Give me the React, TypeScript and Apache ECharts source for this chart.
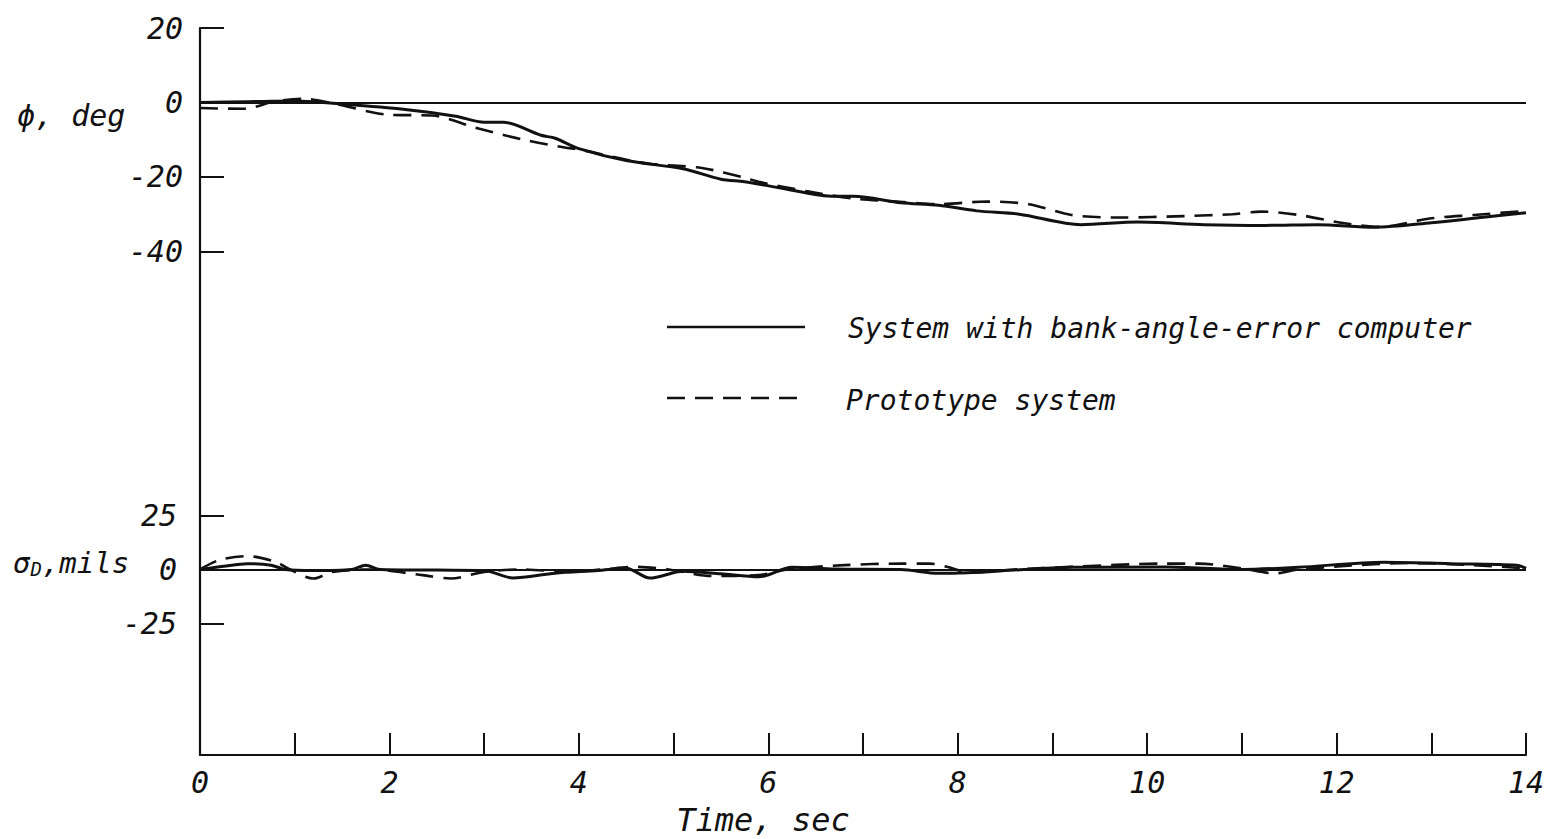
import React, { useEffect, useRef } from "react";
import * as echarts from "echarts";

// Time axis
const timeTicks = [0, 1, 2, 3, 4, 5, 6, 7, 8, 9, 10, 11, 12, 13, 14];
// Tick labels
const phiTicks = [20, 0, -20, -40];
const sigmaTicks = [25, 0, -25];

// Bank angle phi, deg : [time sec, value]
const phiSolid: number[][] = [
  [0, 0], [0.5, 0.2], [1.0, 0.4], [1.4, -0.2], [2.1, -1.7], [2.7, -3.7], [3.0, -5.3], [3.2, -5.3],
  [3.6, -8.8], [3.75, -9.6], [4.0, -12.4], [4.5, -15.6], [5.1, -17.8], [5.5, -20.6], [5.75, -21.3],
  [6.1, -22.8], [6.7, -25.2], [6.9, -25.2], [7.4, -26.9], [7.8, -27.6], [8.2, -29.1], [8.65, -30],
  [9.3, -32.8], [9.9, -32.1], [10.6, -32.8], [11.25, -33], [11.8, -32.8], [12.4, -33.5], [13.0, -32.3],
  [13.55, -30.8], [14.0, -29.6],
];
const phiDashed: number[][] = [
  [0, -1.5], [0.45, -1.7], [0.8, 0.3], [1.1, 1.0], [1.4, -0.2], [2.0, -3.3], [2.45, -3.5], [2.9, -6.7],
  [3.4, -9.9], [3.85, -12.1], [4.0, -12.6], [4.7, -16.3], [5.3, -17.6], [5.75, -20.2], [5.9, -21.3],
  [6.4, -23.8], [6.9, -25.8], [7.35, -26.6], [7.8, -27.3], [8.3, -26.6], [8.75, -27.3], [9.2, -30.2],
  [9.7, -30.9], [10.4, -30.5], [10.9, -30], [11.2, -29.3], [11.6, -30.2], [12.05, -32.3], [12.45, -33.4],
  [13.0, -31.1], [13.45, -30.2], [14.0, -29.1],
];

// sigma_D, mils : [time sec, value]
const sigmaSolid: number[][] = [
  [0, 0], [0.25, 1.5], [0.5, 2.7], [0.75, 2.0], [0.9, 0], [1.2, -0.5], [1.6, 0], [1.75, 2.0], [1.9, 0],
  [2.5, -0.3], [3.0, -0.5], [3.3, -3.9], [3.75, -1.7], [4.2, -0.5], [4.5, 0.6], [4.75, -4.0], [5.1, -0.8],
  [5.5, -2.0], [5.9, -3.4], [6.25, 1.0], [6.7, 0.2], [7.4, 0], [7.8, -1.8], [8.1, -1.5], [8.7, 0],
  [9.2, 1.0], [10.2, 1.2], [11.0, 0], [11.6, 1.0], [12.5, 3.4], [13.2, 2.7], [13.9, 2.0], [14.0, 0.5],
];
const sigmaDashed: number[][] = [
  [0, 0], [0.2, 4.3], [0.5, 6.2], [0.8, 3.5], [0.95, 0], [1.2, -4.2], [1.4, -1.1], [1.8, 0], [2.35, -2.6],
  [2.65, -4.2], [3.0, -1.1], [3.4, 0], [3.9, -1.1], [4.25, 0], [4.6, 1.2], [4.95, 0], [5.4, -3.0],
  [5.9, -2.6], [6.2, 0], [6.8, 2.0], [7.4, 2.7], [7.7, 2.7], [7.95, 0.5], [8.1, -1.5], [8.6, 0],
  [9.2, 1.2], [10.15, 2.7], [10.55, 2.7], [11.0, 0.5], [11.35, -1.8], [11.6, 0], [12.05, 1.5],
  [12.75, 3.0], [13.45, 2.0], [14.0, 0.5],
];

const legendSolid = "System with bank-angle-error computer";
const legendDashed = "Prototype system";

const INK = "#111";
const FONT = "'DejaVu Sans Mono', 'DejaVu Sans', sans-serif";

export default function App() {
  const ref = useRef<HTMLDivElement>(null);
  useEffect(() => {
    document.body.style.margin = "0";
    if (!ref.current) return;
    const chart = echarts.init(ref.current, null, { renderer: "svg" });
    const zeroLine = {
      silent: true,
      symbol: ["none", "none"],
      label: { show: false },
      lineStyle: { color: INK, width: 2.2, type: "solid" },
      data: [{ yAxis: 0 }],
    };
    chart.setOption({
      animation: false,
      backgroundColor: "#fff",
      grid: { left: 200, top: 28, width: 1326, height: 727, containLabel: false },
      xAxis: {
        type: "value",
        min: timeTicks[0],
        max: timeTicks[timeTicks.length - 1],
        interval: 1,
        splitLine: { show: false },
        axisLine: { onZero: false, lineStyle: { color: INK, width: 2.2 } },
        axisTick: { inside: true, length: 22, lineStyle: { color: INK, width: 2 } },
        axisLabel: {
          margin: 12,
          color: INK,
          fontFamily: FONT,
          fontStyle: "italic",
          fontSize: 30,
          formatter: (v: number) => (v % 2 === 0 ? String(v) : ""),
        },
      },
      yAxis: [
        {
          type: "value",
          min: -175.2,
          max: 20,
          position: "left",
          splitLine: { show: false },
          axisLine: { show: true, onZero: false, lineStyle: { color: INK, width: 2.2 } },
          axisTick: { inside: true, length: 24, customValues: phiTicks, lineStyle: { color: INK, width: 2 } },
          axisLabel: {
            customValues: phiTicks,
            margin: 17,
            color: INK,
            fontFamily: FONT,
            fontStyle: "italic",
            fontSize: 30,
          },
        },
        {
          type: "value",
          min: -85.9,
          max: 250.7,
          position: "left",
          splitLine: { show: false },
          axisLine: { show: false, onZero: false },
          axisTick: { show: true, inside: true, length: 24, customValues: sigmaTicks, lineStyle: { color: INK, width: 2 } },
          axisLabel: {
            customValues: sigmaTicks,
            margin: 23,
            color: INK,
            fontFamily: FONT,
            fontStyle: "italic",
            fontSize: 30,
          },
        },
      ],
      series: [
        {
          type: "line",
          name: legendSolid,
          yAxisIndex: 0,
          data: phiSolid,
          smooth: 0.3,
          symbol: "none",
          lineStyle: { color: INK, width: 3 },
          markLine: zeroLine,
        },
        {
          type: "line",
          name: legendDashed,
          yAxisIndex: 0,
          data: phiDashed,
          smooth: 0.3,
          symbol: "none",
          lineStyle: { color: INK, width: 2.6, type: [18, 10] },
        },
        {
          type: "line",
          name: legendSolid,
          yAxisIndex: 1,
          data: sigmaSolid,
          smooth: 0.3,
          symbol: "none",
          lineStyle: { color: INK, width: 3 },
          markLine: zeroLine,
        },
        {
          type: "line",
          name: legendDashed,
          yAxisIndex: 1,
          data: sigmaDashed,
          smooth: 0.3,
          symbol: "none",
          lineStyle: { color: INK, width: 2.6, type: [18, 10] },
        },
      ],
      graphic: [
        {
          type: "text",
          left: 17,
          top: 100,
          style: { text: "ϕ, deg", fill: INK, font: `italic 30px ${FONT}` },
        },
        {
          type: "text",
          left: 13,
          top: 548,
          style: {
            text: "{a|σ}{s|D}{a|,mils}",
            fill: INK,
            rich: {
              a: { fontFamily: FONT, fontStyle: "italic", fontSize: 29, fill: INK },
              s: { fontFamily: FONT, fontStyle: "italic", fontSize: 19, fill: INK, verticalAlign: "bottom", padding: [12, 0, 0, 0] },
            },
          },
        },
        {
          type: "text",
          x: 763,
          y: 820,
          style: { text: "Time, sec", fill: INK, font: `italic 32px ${FONT}`, align: "center", verticalAlign: "middle" },
        },
        {
          type: "line",
          shape: { x1: 667, y1: 327, x2: 805, y2: 327 },
          style: { stroke: INK, lineWidth: 2.6 },
        },
        {
          type: "line",
          shape: { x1: 667, y1: 398, x2: 807, y2: 398 },
          style: { stroke: INK, lineWidth: 2.6, lineDash: [18, 10] },
        },
        {
          type: "text",
          x: 848,
          y: 328,
          style: { text: legendSolid, fill: INK, font: `italic 28px ${FONT}`, verticalAlign: "middle" },
        },
        {
          type: "text",
          x: 846,
          y: 400,
          style: { text: legendDashed, fill: INK, font: `italic 28px ${FONT}`, verticalAlign: "middle" },
        },
      ],
    });
    return () => chart.dispose();
  }, []);
  return <div ref={ref} style={{ width: 1550, height: 839 }} />;
}
